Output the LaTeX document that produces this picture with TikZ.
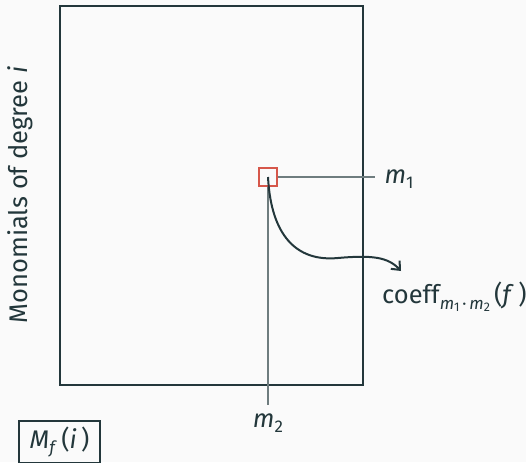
\documentclass[tikz,border=0pt]{standalone}
\usepackage{fontspec}
\setmainfont{Fira Sans}
\usetikzlibrary{arrows.meta}
\definecolor{mdark}{HTML}{23373B}
\definecolor{mgray}{HTML}{6E7C7E}
\definecolor{mred}{HTML}{D6574A}
\definecolor{mbg}{HTML}{FAFAFA}
\newcommand{\vm}[1]{{\itshape #1\/}}
\newcommand{\lowsub}[1]{\raisebox{-0.22em}{\fontsize{17}{20}\selectfont #1}}
\newcommand{\tinysub}[1]{\raisebox{-0.15em}{\fontsize{12.5}{15}\selectfont #1}}
\begin{document}
\begin{tikzpicture}[x=1pt,y=-1pt,
  every node/.style={text=mdark,font=\fontsize{25.5}{30}\selectfont},
  frame/.style={draw=mdark,line width=1.5pt,minimum width=303pt,minimum height=379pt,inner sep=0pt},
  cell/.style={draw=mred,line width=1.3pt,minimum width=18pt,minimum height=18pt,inner sep=0pt},
  guide/.style={draw=mgray,line width=1.3pt},
  curvy/.style={draw=mdark,line width=2pt,-{Straight Barb[length=7pt,width=12pt,line width=2pt]}},
  labelbox/.style={draw=mdark,line width=1.2pt,minimum width=81pt,minimum height=42pt,inner sep=0pt}]
\fill[mbg] (0,0) rectangle (526,462);
\useasboundingbox (0,0) rectangle (526,462);
\node[frame] (mat) at (211.5,195.5) {};
\node[cell] (sq) at (268,177) {};
\coordinate (m1end) at (375,177);
\coordinate (m2end) at (268,405);
\coordinate (arr) at (401,271);
\draw[guide] (sq.east) -- (m1end);
\draw[guide] (sq.south) -- (m2end);
\node[anchor=west] (m1) at (381,179) {\vm{m}\lowsub{1}};
\node (m2) at (268,423) {\vm{m}\lowsub{2}};
\node[anchor=west,inner sep=0pt] (coeff) at (382,297) {coeff\lowsub{\vm{m}\tinysub{1}\,·\,\vm{m}\tinysub{2}}\,(\vm{f}\,)};
\draw[curvy] (sq.center) .. controls (271,235) and (296,262) .. (338,258) .. controls (372,255) and (388,257) .. (arr);
\node[labelbox] (mf) at (59.5,442) {\vm{M}\lowsub{\vm{f}}\,(\vm{i}\,)};
\node[rotate=90] (ylab) at (20,195) {Monomials of degree \textit{i}};
\end{tikzpicture}
\end{document}
